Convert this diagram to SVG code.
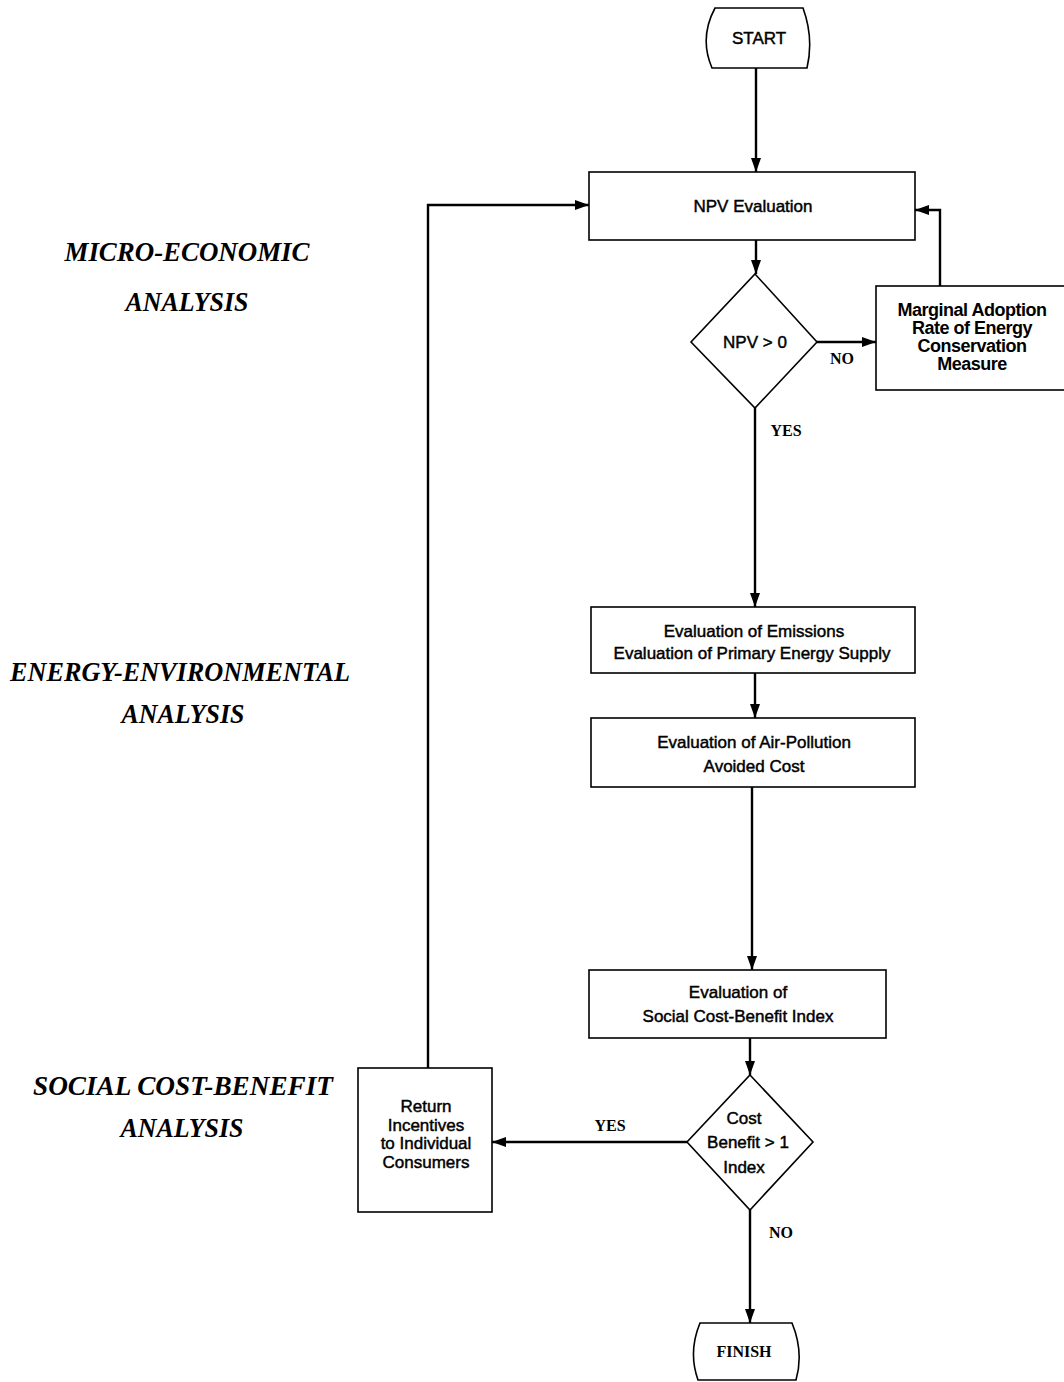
<svg xmlns="http://www.w3.org/2000/svg" width="1064" height="1382" viewBox="0 0 1064 1382">
<style>
.box{fill:#fff;stroke:#000;stroke-width:1.6}
.ln{fill:none;stroke:#000;stroke-width:2.4}
.t{font-family:"Liberation Sans",Arial,sans-serif;font-size:17px;fill:#000;text-anchor:middle;stroke:#000;stroke-width:0.45}
.tm{font-family:"Liberation Sans",Arial,sans-serif;font-size:18px;fill:#000;text-anchor:middle;font-weight:bold;letter-spacing:-0.5px}
.lb{font-family:"Liberation Serif","Times New Roman",serif;font-size:16px;font-weight:bold;fill:#000;text-anchor:middle}
.sec{font-family:"Liberation Serif","Times New Roman",serif;font-size:27px;font-weight:bold;font-style:italic;fill:#000;text-anchor:middle}
</style>
<defs>
<marker id="ah" viewBox="0 0 14 10" refX="14" refY="5" markerWidth="14" markerHeight="10" markerUnits="userSpaceOnUse" orient="auto">
<path d="M0,0 L14,5 L0,10 Z" fill="#000"/>
</marker>
</defs>
<rect width="1064" height="1382" fill="#fff"/>

<g id="section-labels">
<text class="sec" x="187" y="261" textLength="245" lengthAdjust="spacingAndGlyphs">MICRO-ECONOMIC</text>
<text class="sec" x="187" y="311" textLength="123" lengthAdjust="spacingAndGlyphs">ANALYSIS</text>
<text class="sec" x="180" y="681" textLength="340" lengthAdjust="spacingAndGlyphs">ENERGY-ENVIRONMENTAL</text>
<text class="sec" x="183" y="723" textLength="123" lengthAdjust="spacingAndGlyphs">ANALYSIS</text>
<text class="sec" x="183" y="1095" textLength="300" lengthAdjust="spacingAndGlyphs">SOCIAL COST-BENEFIT</text>
<text class="sec" x="182" y="1137" textLength="123" lengthAdjust="spacingAndGlyphs">ANALYSIS</text>
</g>

<g id="connectors">
<line class="ln" x1="756" y1="68" x2="756" y2="172" marker-end="url(#ah)"/>
<line class="ln" x1="756" y1="240" x2="756" y2="274" marker-end="url(#ah)"/>
<line class="ln" x1="817" y1="342" x2="876" y2="342" marker-end="url(#ah)"/>
<polyline class="ln" points="940,286 940,210 915,210" marker-end="url(#ah)"/>
<line class="ln" x1="755" y1="408" x2="755" y2="607" marker-end="url(#ah)"/>
<line class="ln" x1="755" y1="673" x2="755" y2="718" marker-end="url(#ah)"/>
<line class="ln" x1="752" y1="787" x2="752" y2="970" marker-end="url(#ah)"/>
<line class="ln" x1="750" y1="1038" x2="750" y2="1075" marker-end="url(#ah)"/>
<line class="ln" x1="687" y1="1142" x2="492" y2="1142" marker-end="url(#ah)"/>
<polyline class="ln" points="428,1068 428,205 589,205" marker-end="url(#ah)"/>
<line class="ln" x1="750" y1="1210" x2="750" y2="1323" marker-end="url(#ah)"/>
<text class="lb" x="842" y="364">NO</text>
<text class="lb" x="786" y="436">YES</text>
<text class="lb" x="610" y="1131">YES</text>
<text class="lb" x="781" y="1238">NO</text>
</g>

<g id="start">
<path class="box" d="M715,8 L803,8 Q814,38 807,68 L712,68 Q699,38 715,8 Z"/>
<text class="t" x="759" y="44">START</text>
</g>

<g id="npv-evaluation">
<rect class="box" x="589" y="172" width="326" height="68"/>
<text class="t" x="753" y="212">NPV Evaluation</text>
</g>

<g id="npv-decision">
<polygon class="box" points="755,274 817,342 755,408 691,342"/>
<text class="t" x="755" y="348">NPV &gt; 0</text>
</g>

<g id="marginal-adoption">
<rect class="box" x="876" y="286" width="190" height="104"/>
<text class="tm" x="972" y="316">Marginal Adoption</text>
<text class="tm" x="972" y="334">Rate of Energy</text>
<text class="tm" x="972" y="352">Conservation</text>
<text class="tm" x="972" y="370">Measure</text>
</g>

<g id="emissions">
<rect class="box" x="591" y="607" width="324" height="66"/>
<text class="t" x="754" y="637">Evaluation of Emissions</text>
<text class="t" x="752" y="659">Evaluation of Primary Energy Supply</text>
</g>

<g id="air-pollution">
<rect class="box" x="591" y="718" width="324" height="69"/>
<text class="t" x="754" y="748">Evaluation of Air-Pollution</text>
<text class="t" x="754" y="772">Avoided Cost</text>
</g>

<g id="social-cost-benefit">
<rect class="box" x="589" y="970" width="297" height="68"/>
<text class="t" x="738" y="998">Evaluation of</text>
<text class="t" x="738" y="1022">Social Cost-Benefit Index</text>
</g>

<g id="cb-decision">
<polygon class="box" points="750,1075 813,1142 750,1210 687,1142"/>
<text class="t" x="744" y="1124">Cost</text>
<text class="t" x="748" y="1148">Benefit &gt; 1</text>
<text class="t" x="744" y="1173">Index</text>
</g>

<g id="return-incentives">
<rect class="box" x="358" y="1068" width="134" height="144"/>
<text class="t" x="426" y="1112">Return</text>
<text class="t" x="426" y="1131">Incentives</text>
<text class="t" x="426" y="1149">to Individual</text>
<text class="t" x="426" y="1168">Consumers</text>
</g>

<g id="finish">
<path class="box" d="M700,1323 L792,1323 Q804,1352 796,1380 L698,1380 Q688,1352 700,1323 Z"/>
<text class="lb" x="744" y="1357" font-size="17">FINISH</text>
</g>
</svg>
